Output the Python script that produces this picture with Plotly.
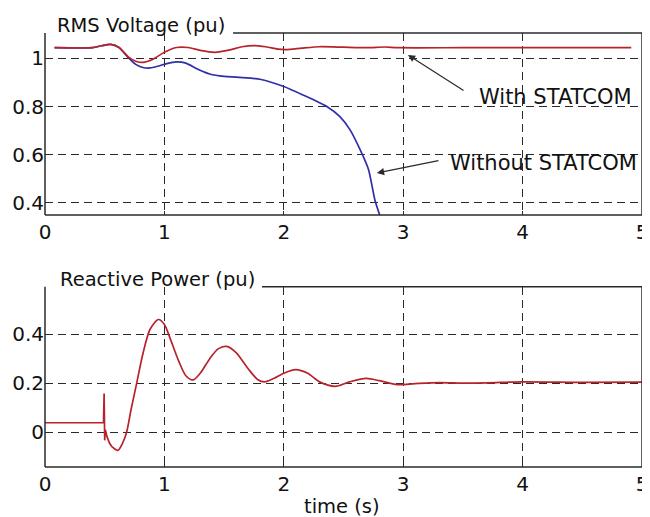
import plotly.graph_objects as go

# ---- data ----
t_with = [0.08, 0.40, 0.47, 0.55, 0.62, 0.70, 0.76, 0.82, 0.90, 1.00, 1.10, 1.20, 1.30, 1.42,
          1.55, 1.65, 1.75, 1.85, 1.95, 2.02, 2.15, 2.30, 2.50, 2.70, 2.85, 2.95, 3.50, 4.00, 4.91]
v_with = [1.044, 1.044, 1.052, 1.058, 1.045, 1.005, 0.988, 0.983, 0.995, 1.025, 1.045, 1.045, 1.033, 1.025,
          1.035, 1.048, 1.053, 1.048, 1.038, 1.036, 1.042, 1.048, 1.046, 1.044, 1.047, 1.044, 1.044, 1.044, 1.044]

t_without = [0.08, 0.40, 0.47, 0.55, 0.62, 0.70, 0.76, 0.82, 0.88, 0.95, 1.02, 1.10, 1.18, 1.28,
             1.38, 1.50, 1.60, 1.74, 1.80, 2.00, 2.16, 2.36, 2.47, 2.555, 2.64, 2.71, 2.764, 2.81]
v_without = [1.044, 1.044, 1.052, 1.058, 1.045, 1.002, 0.975, 0.962, 0.960, 0.968, 0.978, 0.985, 0.980, 0.955,
             0.935, 0.925, 0.922, 0.917, 0.913, 0.883, 0.848, 0.800, 0.758, 0.703, 0.620, 0.538, 0.410, 0.340]

t_q_pre = [0.0, 0.49, 0.495, 0.50, 0.505, 0.52, 0.54, 0.56]
q_pre = [0.038, 0.038, 0.157, -0.034, 0.010, -0.020, -0.045, -0.060]

t_q = [0.56, 0.61, 0.65, 0.684, 0.72, 0.768, 0.82, 0.88, 0.95, 1.00, 1.05, 1.12, 1.18, 1.24, 1.30, 1.38,
       1.45, 1.52, 1.60, 1.70, 1.78, 1.84, 1.92, 2.00, 2.10, 2.20, 2.30, 2.43, 2.55, 2.69, 2.80, 2.95,
       3.10, 3.30, 3.50, 3.70, 4.00, 4.50, 5.00]
q = [-0.060, -0.075, -0.045, 0.000, 0.090, 0.200, 0.320, 0.420, 0.460, 0.440, 0.380, 0.290, 0.230, 0.213,
     0.240, 0.300, 0.340, 0.350, 0.325, 0.260, 0.215, 0.205, 0.220, 0.240, 0.255, 0.240, 0.205, 0.187,
     0.205, 0.219, 0.210, 0.194, 0.198, 0.202, 0.200, 0.201, 0.205, 0.203, 0.204]

x_ticks = [0, 1, 2, 3, 4, 5]
v_ticks = [0.4, 0.6, 0.8, 1.0]
v_tick_text = ["0.4", "0.6", "0.8", "1"]
q_ticks = [0, 0.2, 0.4]
q_tick_text = ["0", "0.2", "0.4"]

RED = "#b8232b"
BLUE = "#2f2fa8"
INK = "#2a2a2a"
FONT = "DejaVu Sans, Arial, sans-serif"

fig = go.Figure()
fig.add_trace(go.Scatter(x=t_without, y=v_without, mode="lines", line=dict(color=BLUE, width=1.7, shape="spline", smoothing=0.6),
                         xaxis="x", yaxis="y", showlegend=False))
fig.add_trace(go.Scatter(x=t_with, y=v_with, mode="lines", line=dict(color=RED, width=1.7, shape="spline", smoothing=0.6),
                         xaxis="x", yaxis="y", showlegend=False))
fig.add_trace(go.Scatter(x=t_q_pre, y=q_pre, mode="lines", line=dict(color=RED, width=1.7),
                         xaxis="x2", yaxis="y2", showlegend=False))
fig.add_trace(go.Scatter(x=t_q, y=q, mode="lines", line=dict(color=RED, width=1.7, shape="spline", smoothing=0.8),
                         xaxis="x2", yaxis="y2", showlegend=False))

grid = dict(showgrid=True, gridcolor=INK, gridwidth=1.4, griddash="8px,5px",
            ticks="inside", ticklen=4, tickcolor=INK, zeroline=False, showline=False,
            automargin=False,
            tickfont=dict(family=FONT, size=20, color="#111"))
xgrid = dict(grid, ticklabelstandoff=3)

# page body adds an 8px margin, so the figure is 8px smaller than the window
fig.update_layout(
    width=642, height=509,
    margin=dict(l=37, r=8, t=25, b=50),
    paper_bgcolor="white", plot_bgcolor="white",
    xaxis=dict(domain=[0, 1], range=[0, 5], tickvals=x_ticks, anchor="y", **xgrid),
    yaxis=dict(domain=[0.5806, 1.0], range=[0.35, 1.105], tickvals=v_ticks, ticktext=v_tick_text, anchor="x", **grid),
    xaxis2=dict(domain=[0, 1], range=[0, 5], tickvals=x_ticks, anchor="y2", **xgrid),
    yaxis2=dict(domain=[0, 0.4154], range=[-0.143, 0.594], tickvals=q_ticks, ticktext=q_tick_text, anchor="x2", **grid),
)

# frames
def frame(xd, yd, top_start):
    segs = [(0, 0, 0, 1), (0, 0, 1, 0), (1, 0, 1, 1), (top_start, 1, 1, 1)]
    for x0, y0, x1, y1 in segs:
        fig.add_shape(type="line", xref=xd, yref=yd, x0=x0, y0=y0, x1=x1, y1=y1,
                      line=dict(color=INK, width=1.5))

frame("x domain", "y domain", 0.315)
frame("x2 domain", "y2 domain", 0.3635)

# titles
fig.add_annotation(text="RMS Voltage (pu)", xref="paper", yref="paper", x=0.0168, y=1.0184,
                   xanchor="left", yanchor="middle", showarrow=False,
                   font=dict(family=FONT, size=19.5, color="#111"))
fig.add_annotation(text="Reactive Power (pu)", xref="paper", yref="paper", x=0.022, y=0.431,
                   xanchor="left", yanchor="middle", showarrow=False,
                   font=dict(family=FONT, size=19.5, color="#111"))
fig.add_annotation(text="time (s)", xref="paper", yref="paper", x=0.498, y=-0.090,
                   xanchor="center", yanchor="middle", showarrow=False,
                   font=dict(family=FONT, size=19.5, color="#111"))

# arrows + labels
fig.add_annotation(text="", x=3.04, y=1.014, ax=3.518, ay=0.862, xref="x", yref="y", axref="x", ayref="y",
                   showarrow=True, arrowhead=2, arrowsize=1.2, arrowwidth=1.2, arrowcolor=INK, standoff=0)
fig.add_annotation(text="", x=2.78, y=0.524, ax=3.308, ay=0.577, xref="x", yref="y", axref="x", ayref="y",
                   showarrow=True, arrowhead=2, arrowsize=1.2, arrowwidth=1.2, arrowcolor=INK, standoff=0)
fig.add_annotation(text="With STATCOM", x=3.618, y=0.84, xref="x", yref="y", xanchor="left", yanchor="middle",
                   showarrow=False, font=dict(family=FONT, size=21, color="#111"))
fig.add_annotation(text="Without STATCOM", x=3.375, y=0.564, xref="x", yref="y", xanchor="left", yanchor="middle",
                   showarrow=False, font=dict(family=FONT, size=21, color="#111"))

fig.write_html("out.html")
